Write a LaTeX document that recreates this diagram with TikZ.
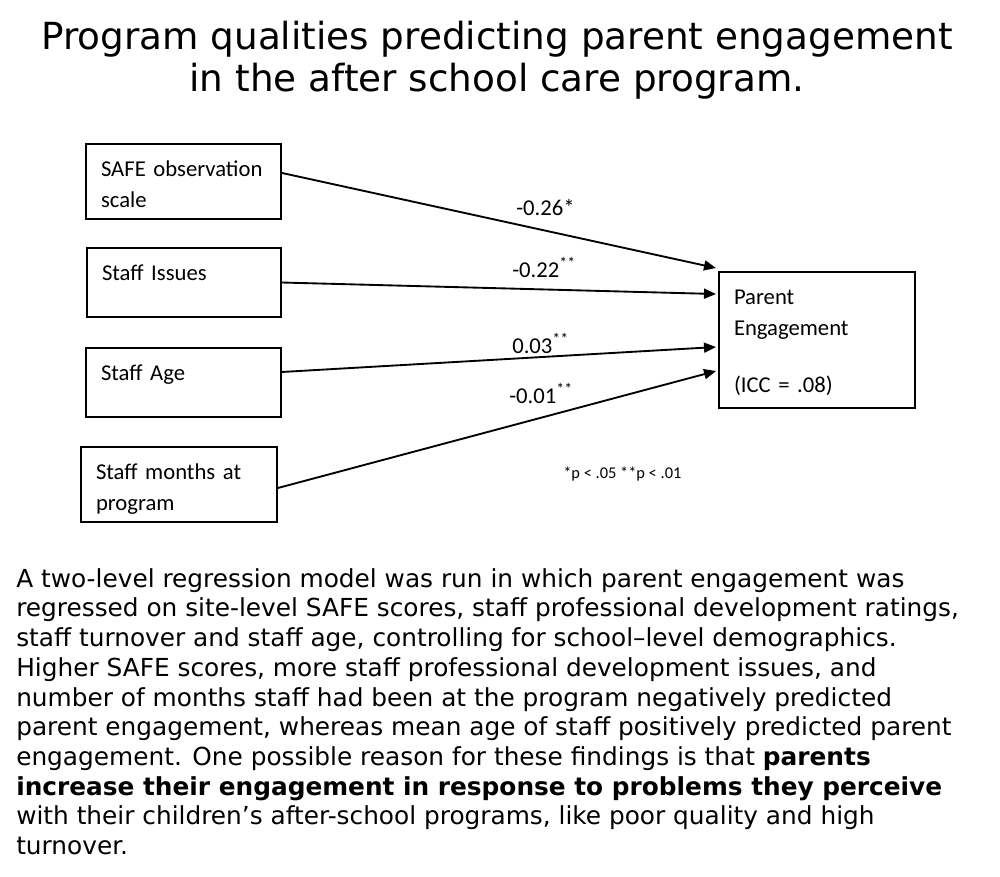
\documentclass[tikz,border=0pt]{standalone}
\usepackage{fontspec}
\setmainfont{Carlito}
\newfontfamily\verdanalike{DejaVu Sans}
\usetikzlibrary{arrows.meta}

\begin{document}
\begin{tikzpicture}
    [
      x=0.75pt, y=-0.75pt,
      var/.style={draw, line width=1.5pt, anchor=north west, align=left,
        inner xsep=11.25pt, inner ysep=0pt, text height=24pt,
        font=\fontsize{17}{23.25}\selectfont},
      coef/.style={anchor=base west, inner sep=0pt, font=\fontsize{17}{20}\selectfont},
      path/.style={-{Triangle[length=9pt,width=7.5pt]}, line width=1.4pt},
      heading/.style={anchor=base, align=center, inner sep=0pt,
        font=\verdanalike\fontsize{28}{31.5}\selectfont},
      summary/.style={anchor=base west, align=left, inner sep=0pt,
        font=\verdanalike\fontsize{18.6}{22.3}\selectfont},
    ]

    \useasboundingbox (0,0) rectangle (1000,876);

    % base of a multi-line node is its last line
    \node (title) [heading] at (497,91)
      {Program qualities predicting parent engagement\\in the after school care program.};

    % predictors
    \node (safe) [var, text width=123.75pt, text depth=32.25pt] at (85,143)
      {SAFE observation\\scale};
    \node (issues) [var, text width=123pt, text depth=27.75pt] at (86,247)
      {Staff Issues};
    \node (age) [var, text width=123.75pt, text depth=27.75pt] at (85,347)
      {Staff Age};
    \node (months) [var, text width=124.5pt, text depth=32.25pt] at (80,446)
      {Staff months at\\program};

    % outcome
    \node (parent) [var, text width=124.5pt, text depth=78pt] at (718,271)
      {Parent\\Engagement\\[19.5pt](ICC = .08)};

    \path
    ([yshift=6.4pt]safe.east) edge [path] ([xshift=-1.5pt,yshift=2.25pt]parent.north west)
    (issues.east) edge [path] ([xshift=-1.5pt,yshift=-17.25pt]parent.north west)
    ([yshift=7.9pt]age.east) edge [path] ([xshift=-1.5pt,yshift=-57pt]parent.north west)
    ([yshift=-2.6pt]months.east) edge [path] ([xshift=-1.5pt,yshift=-75pt]parent.north west)
    ;

    \node (b-safe) [coef] at (516,215) {-0.26*};
    \node (b-issues) [coef] at (512,277) {-0.22\textsuperscript{**}};
    \node (b-age) [coef] at (512,353) {0.03\textsuperscript{**}};
    \node (b-months) [coef] at (509,403) {-0.01\textsuperscript{**}};

    \node (sig) [anchor=base west, inner sep=0pt, font=\fontsize{12.3}{14}\selectfont]
      at (563,478) {*p < .05 **p < .01};

    \node (text) [summary] at (16,854.7)
      {A two-level regression model was run in which parent engagement was\\
       regressed on site-level SAFE scores, staff professional development ratings,\\
       staff turnover and staff age, controlling for school–level demographics.\\
       Higher SAFE scores, more staff professional development issues, and\\
       number of months staff had been at the program negatively predicted\\
       parent engagement, whereas mean age of staff positively predicted parent\\
       engagement. One possible reason for these findings is that \textbf{parents}\\
       \textbf{increase their engagement in response to problems they perceive}\\
       with their children’s after-school programs, like poor quality and high\\
       turnover.};

\end{tikzpicture}
\end{document}
